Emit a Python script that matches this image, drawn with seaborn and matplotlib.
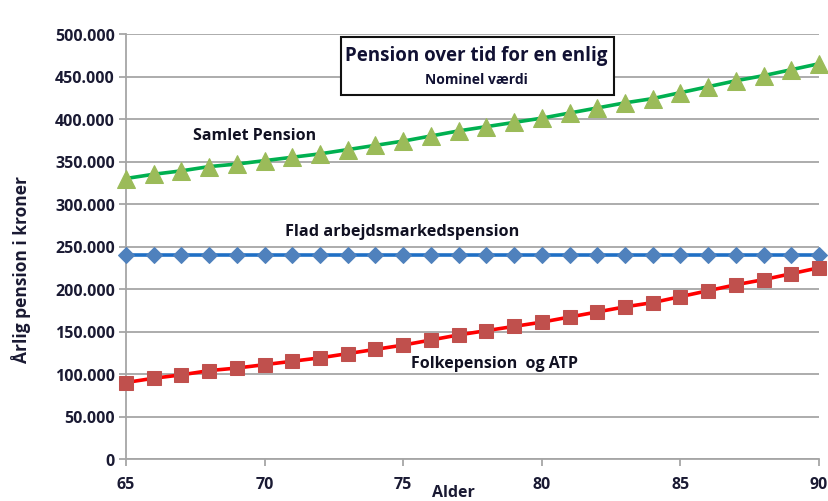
import matplotlib
matplotlib.use("Agg")
import matplotlib.pyplot as plt
import matplotlib.ticker as mticker
from matplotlib.patches import Rectangle
import seaborn as sns
import pandas as pd

ages = list(range(65, 91))
folkepension_atp = [90000, 95000, 99000, 104000, 107000, 111000, 115000, 119000, 124000,
                    129000, 134000, 140000, 146000, 151000, 156000, 161000, 167000, 173000,
                    179000, 184000, 191000, 198000, 205000, 211000, 218000, 225000]
flad_pension = [240000] * 26
samlet_pension = [330000, 335000, 339000, 344000, 347000, 351000, 355000, 359000, 364000,
                  369000, 374000, 380000, 386000, 391000, 396000, 401000, 407000, 413000,
                  419000, 424000, 431000, 438000, 445000, 451000, 458000, 465000]
y_ticks = [0, 50000, 100000, 150000, 200000, 250000, 300000, 350000, 400000, 450000, 500000]
x_ticks = [65, 70, 75, 80, 85, 90]

title = "Pension over tid for en enlig"
subtitle = "Nominel værdi"
label_samlet = "Samlet Pension"
label_flad = "Flad arbejdsmarkedspension"
label_folke = "Folkepension  og ATP"
ylabel = "Årlig pension i kroner"
xlabel = "Alder"

sns.set_theme(style="white")
plt.rcParams["font.family"] = ["Open Sans", "DejaVu Sans"]
plt.rcParams["font.weight"] = "bold"

W, H = 829, 502
fig = plt.figure(figsize=(W / 100, H / 100), dpi=100)
ax = fig.add_axes([126 / W, 1 - 460 / H, (819 - 126) / W, (460 - 35) / H])

df = pd.DataFrame({"Alder": ages, "Samlet": samlet_pension,
                   "Flad": flad_pension, "Folke": folkepension_atp})

series = [
    ("Samlet", "#00b050", "^", "#9bbb59", 12.5),
    ("Flad", "#1f6fc5", "D", "#4f81bd", 8.5),
    ("Folke", "#ff0000", "s", "#c0504d", 10),
]
for col, lc, mk, mc, ms in series:
    sns.lineplot(data=df, x="Alder", y=col, ax=ax, color=lc, linewidth=2.6,
                 marker=mk, markersize=ms, markerfacecolor=mc, markeredgecolor=mc,
                 clip_on=False, zorder=3)

ax.set_xlim(65, 90)
ax.set_ylim(0, 500000)
ax.set_yticks(y_ticks)
ax.set_xticks(x_ticks)
ax.yaxis.set_major_formatter(mticker.FuncFormatter(lambda v, p: f"{v:,.0f}".replace(",", ".")))
ax.grid(axis="y", color="#a6a6a6", linewidth=1.3)
ax.grid(axis="x", visible=False)
for s in ["top", "right"]:
    ax.spines[s].set_visible(False)
for s in ["left", "bottom"]:
    ax.spines[s].set_color("#a6a6a6")
    ax.spines[s].set_linewidth(1.3)
ax.tick_params(axis="y", left=True, length=5, width=1.3, color="#a6a6a6", pad=3,
               labelsize=11.5, labelcolor="#1a1a33")
ax.tick_params(axis="x", bottom=True, length=5, width=1.3, color="#a6a6a6", pad=7,
               labelsize=11.5, labelcolor="#1a1a33")
for lab in ax.get_xticklabels() + ax.get_yticklabels():
    lab.set_fontweight("bold")

ax.set_xlabel(xlabel, fontsize=11.5, fontweight="bold", color="#1a1a33")
ax.set_ylabel(ylabel, fontsize=12.5, fontweight="bold", color="#1a1a33")
ax.xaxis.set_label_coords((453 - 126) / 693, -0.058)
ax.yaxis.set_label_coords(-0.137, 0.449)

def fx(px):
    return px / W

def fy(py):
    return 1 - py / H

fig.patches.append(Rectangle((fx(341), fy(96)), fx(614) - fx(341), fy(38) - fy(96),
                             transform=fig.transFigure, facecolor="white",
                             edgecolor="#111111", linewidth=1.5, zorder=5))
fig.text(fx(476), fy(56), title, ha="center", va="center", fontsize=13.5,
         fontweight="bold", color="#111133", zorder=6)
fig.text(fx(476), fy(80), subtitle, ha="center", va="center", fontsize=10,
         fontweight="bold", color="#111133", zorder=6)

fig.text(fx(255), fy(136), label_samlet, ha="center", va="center", fontsize=11.5,
         fontweight="bold", color="#111122")
fig.text(fx(402), fy(232), label_flad, ha="center", va="center", fontsize=11.7,
         fontweight="bold", color="#111122")
fig.text(fx(495), fy(364), label_folke, ha="center", va="center", fontsize=11.5,
         fontweight="bold", color="#111122")

fig.savefig("out.png", dpi=100, facecolor="white")
